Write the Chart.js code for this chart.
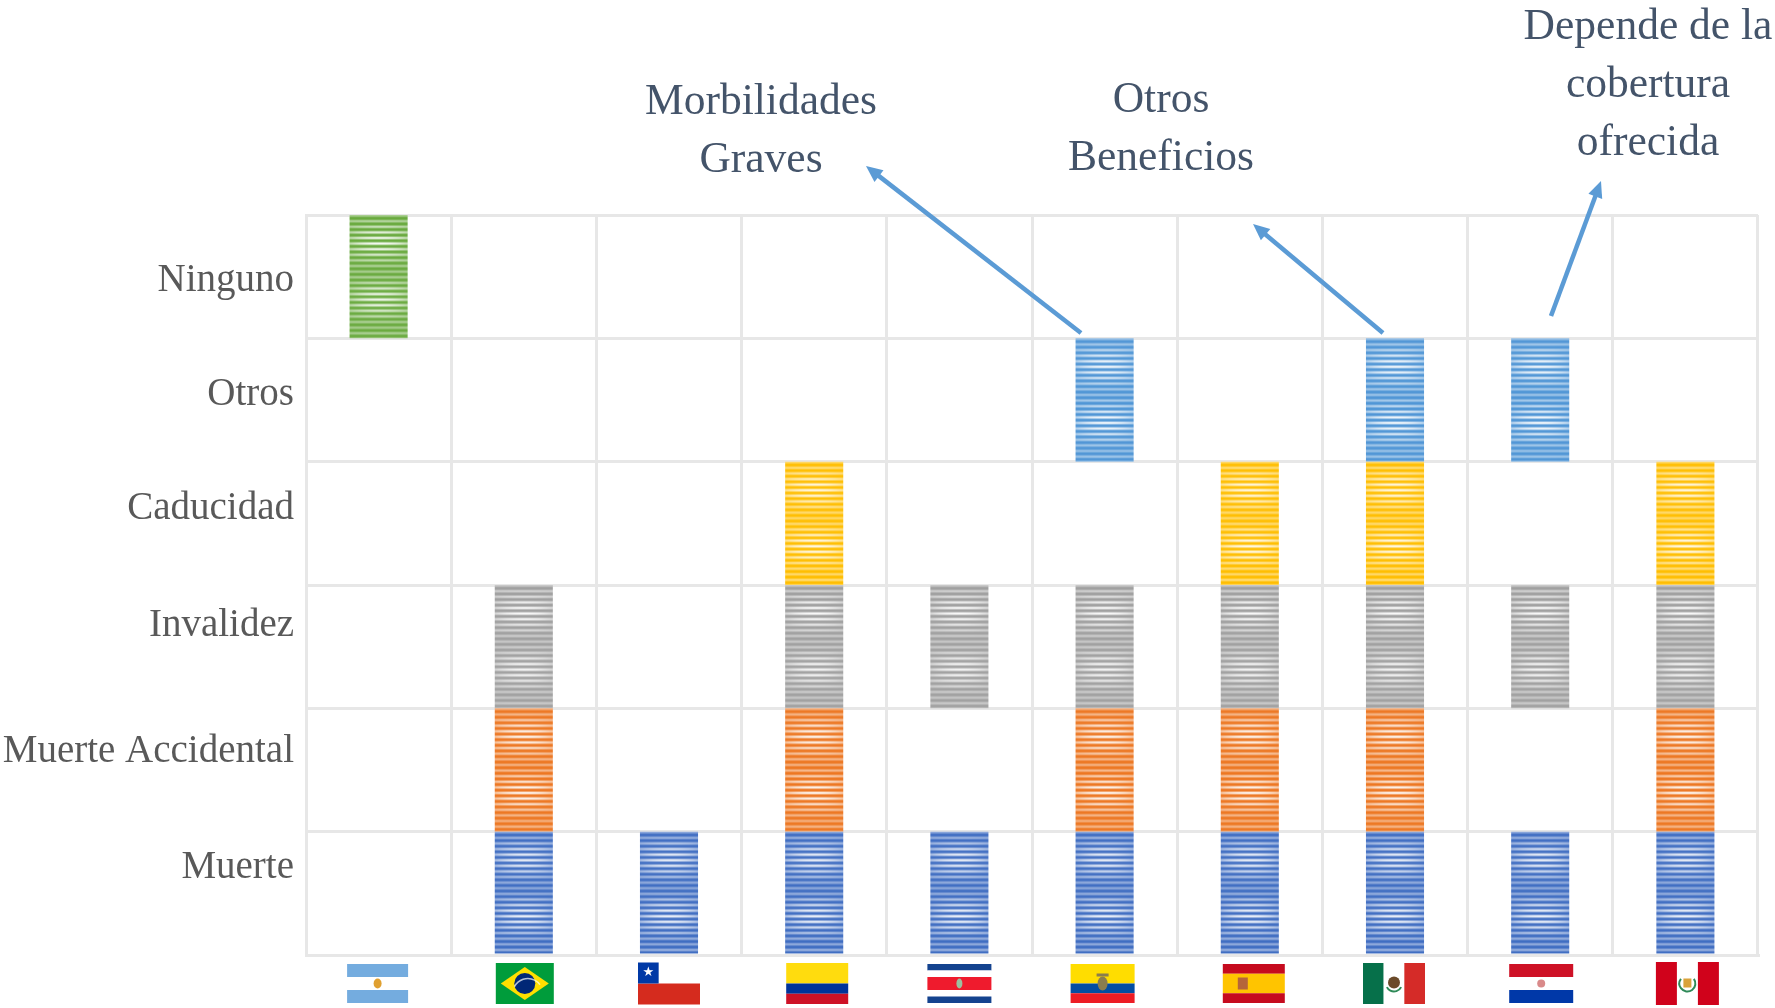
<!DOCTYPE html>
<html lang="es">
<head>
<meta charset="utf-8">
<title>Coberturas por país</title>
<script src="https://cdn.jsdelivr.net/npm/chart.js@4/dist/chart.umd.min.js"></script>
<style>
  html, body { margin: 0; padding: 0; background: #fff; }
  canvas { display: block; }
</style>
</head>
<body>
<canvas id="chart" width="1775" height="1008"></canvas>
<script>
'use strict';

const countries = ['Argentina', 'Brasil', 'Chile', 'Colombia', 'Costa Rica', 'Ecuador', 'España', 'México', 'Paraguay', 'Perú'];

// bottom row first, 1 = the country offers that cover
const rowLabels = ['Muerte', 'Muerte Accidental', 'Invalidez', 'Caducidad', 'Otros', 'Ninguno'];
const muerte = [0, 1, 1, 1, 1, 1, 1, 1, 1, 1];
const muerteAccidental = [0, 1, 0, 1, 0, 1, 1, 1, 0, 1];
const invalidez = [0, 1, 0, 1, 1, 1, 1, 1, 1, 1];
const caducidad = [0, 0, 0, 1, 0, 0, 1, 1, 0, 1];
const otros = [0, 0, 0, 0, 0, 1, 0, 1, 1, 0];
const ninguno = [1, 0, 0, 0, 0, 0, 0, 0, 0, 0];

const rows = [muerte, muerteAccidental, invalidez, caducidad, otros, ninguno];
const rowColors = ['#3f6dc2', '#ed7722', '#a0a0a0', '#ffbe00', '#5096d6', '#69aa3e'];

// the row labels sit on their own spacing, not on the row centres
const labelPositions = [0.71, 1.65, 2.67, 3.62, 4.54, 5.47];

const notes = [
  { lines: ['Morbilidades', 'Graves'], x: 761, y: 103, from: [1081, 333], to: [866, 166] },
  { lines: ['Otros', 'Beneficios'], x: 1161, y: 101, from: [1383, 333], to: [1253, 224] },
  { lines: ['Depende de la', 'cobertura', 'ofrecida'], x: 1648, y: 28, from: [1551, 316], to: [1601, 181] },
];

const flagNudge = [-1, 1, 0, 3, 0, -2, 4, -1, 1, 2];

function hexToRgb(hex) {
  return [1, 3, 5].map((i) => parseInt(hex.slice(i, i + 2), 16));
}

// one tile per grid cell: fine stripes that wash out in two bands, like the scaled-down original
function stripeTile(color) {
  const w = 145;
  const h = 124;
  const tile = document.createElement('canvas');
  tile.width = w;
  tile.height = h;
  const c = tile.getContext('2d');
  const img = c.createImageData(w, h);
  const rgb = hexToRgb(color);
  for (let y = 0; y < h; y++) {
    const t = y / h;
    const stripe = Math.pow(0.5 + 0.5 * Math.cos((2 * Math.PI * y) / (h / 22)), 1.3);
    const wash = 0.5 + 0.5 * Math.cos((2 * Math.PI * (t - 0.22)) / 0.46);
    for (let x = 0; x < w; x++) {
      const dist = Math.abs(x - w / 2) / 29;
      const glow = Math.max(0, 1 - 0.7 * dist * dist);
      const light = stripe * (0.42 + 0.55 * wash * glow);
      const i = (y * w + x) * 4;
      img.data[i] = rgb[0] + (255 - rgb[0]) * light;
      img.data[i + 1] = rgb[1] + (255 - rgb[1]) * light;
      img.data[i + 2] = rgb[2] + (255 - rgb[2]) * light;
      img.data[i + 3] = 255;
    }
  }
  c.putImageData(img, 0, 0);
  return tile;
}

const patternCache = {};

function stripeFill(ctx, color) {
  const chart = ctx.chart;
  if (!chart.chartArea) return color;
  if (patternCache[color]) return patternCache[color];
  const area = chart.chartArea;
  const pattern = chart.ctx.createPattern(stripeTile(color), 'repeat');
  const m = new DOMMatrix()
    .translate(area.left, area.top)
    .scale(area.width / 10 / 145, area.height / 6 / 124);
  pattern.setTransform(m);
  patternCache[color] = pattern;
  return pattern;
}

function bands(c, x, y, w, h, list) {
  let cur = y;
  list.forEach(([color, share]) => {
    c.fillStyle = color;
    c.fillRect(x, cur, w, h * share);
    cur += h * share;
  });
}

function dot(c, x, y, r, color) {
  c.fillStyle = color;
  c.beginPath();
  c.arc(x, y, r, 0, Math.PI * 2);
  c.fill();
}

const flags = {
  Argentina: { w: 61, h: 39, draw(c, x, y, w, h) {
    bands(c, x, y, w, h, [['#74acdf', 1 / 3], ['#ffffff', 1 / 3], ['#74acdf', 1 / 3]]);
    c.fillStyle = '#e0a030';
    c.beginPath();
    c.ellipse(x + w / 2, y + h / 2, 4, 5, 0, 0, Math.PI * 2);
    c.fill();
  } },
  Brasil: { w: 58, h: 41, draw(c, x, y, w, h) {
    c.fillStyle = '#009c3b';
    c.fillRect(x, y, w, h);
    c.fillStyle = '#ffdf00';
    c.beginPath();
    c.moveTo(x + 5, y + h / 2);
    c.lineTo(x + w / 2, y + 4);
    c.lineTo(x + w - 5, y + h / 2);
    c.lineTo(x + w / 2, y + h - 4);
    c.closePath();
    c.fill();
    dot(c, x + w / 2, y + h / 2, 10.5, '#002776');
    c.strokeStyle = 'rgba(255,255,255,0.7)';
    c.lineWidth = 1.5;
    c.beginPath();
    c.arc(x + w / 2 + 3, y + h / 2 + 10, 15, Math.PI * 1.15, Math.PI * 1.8);
    c.stroke();
  } },
  Chile: { w: 62, h: 42, draw(c, x, y, w, h) {
    c.fillStyle = '#ffffff';
    c.fillRect(x, y, w, h / 2);
    c.fillStyle = '#d52b1e';
    c.fillRect(x, y + h / 2, w, h / 2);
    c.fillStyle = '#0039a6';
    c.fillRect(x, y, w / 3, h / 2);
    c.fillStyle = '#ffffff';
    c.font = '13px "DejaVu Sans"';
    c.textAlign = 'center';
    c.textBaseline = 'middle';
    c.fillText('\u2605', x + w / 6, y + h / 4);
  } },
  Colombia: { w: 62, h: 41, draw(c, x, y, w, h) {
    bands(c, x, y, w, h, [['#ffdc0e', 0.5], ['#00349a', 0.25], ['#ce1126', 0.25]]);
  } },
  'Costa Rica': { w: 64, h: 39, draw(c, x, y, w, h) {
    bands(c, x, y, w, h, [['#14438f', 1 / 6], ['#ffffff', 1 / 6], ['#ef1b2d', 1 / 3], ['#ffffff', 1 / 6], ['#14438f', 1 / 6]]);
    c.fillStyle = '#9cc0a0';
    c.beginPath();
    c.ellipse(x + w / 2, y + h / 2, 3, 5, 0, 0, Math.PI * 2);
    c.fill();
  } },
  Ecuador: { w: 64, h: 39, draw(c, x, y, w, h) {
    bands(c, x, y, w, h, [['#ffdd00', 0.5], ['#034ea2', 0.25], ['#ed1c24', 0.25]]);
    c.fillStyle = '#8a7d4e';
    c.beginPath();
    c.ellipse(x + w / 2, y + h / 2, 5, 7, 0, 0, Math.PI * 2);
    c.fill();
    c.fillRect(x + w / 2 - 6, y + h / 2 - 10, 12, 3);
  } },
  'España': { w: 62, h: 39, draw(c, x, y, w, h) {
    bands(c, x, y, w, h, [['#c60b1e', 0.25], ['#ffc400', 0.5], ['#c60b1e', 0.25]]);
    c.fillStyle = '#b5653a';
    c.fillRect(x + 15, y + h / 2 - 6, 10, 12);
  } },
  'México': { w: 62, h: 41, draw(c, x, y, w, h) {
    c.fillStyle = '#06704a';
    c.fillRect(x, y, w / 3, h);
    c.fillStyle = '#ffffff';
    c.fillRect(x + w / 3, y, w / 3, h);
    c.fillStyle = '#d52b28';
    c.fillRect(x + (2 * w) / 3, y, w / 3, h);
    dot(c, x + w / 2, y + h / 2 - 1, 6, '#6b4a2a');
    c.strokeStyle = '#2f8a58';
    c.lineWidth = 2;
    c.beginPath();
    c.arc(x + w / 2, y + h / 2, 8, Math.PI * 0.15, Math.PI * 0.85);
    c.stroke();
  } },
  Paraguay: { w: 64, h: 39, draw(c, x, y, w, h) {
    bands(c, x, y, w, h, [['#ce1126', 1 / 3], ['#ffffff', 1 / 3], ['#0038a8', 1 / 3]]);
    dot(c, x + w / 2, y + h / 2, 4, '#d98a8a');
  } },
  'Perú': { w: 63, h: 43, draw(c, x, y, w, h) {
    c.fillStyle = '#d0021b';
    c.fillRect(x, y, w, h);
    c.fillStyle = '#ffffff';
    c.fillRect(x + w / 3, y, w / 3, h);
    c.strokeStyle = '#2f8a58';
    c.lineWidth = 2;
    c.beginPath();
    c.arc(x + w / 2, y + h / 2, 8, Math.PI * -0.2, Math.PI * 1.2);
    c.stroke();
    c.fillStyle = '#d9a23a';
    c.fillRect(x + w / 2 - 4, y + h / 2 - 5, 8, 9);
  } },
};

const flagRow = {
  id: 'flagRow',
  afterDatasetsDraw(chart) {
    const c = chart.ctx;
    const xScale = chart.scales.x;
    countries.forEach((name, i) => {
      const f = flags[name];
      const cx = xScale.getPixelForValue(i) + flagNudge[i];
      const cy = 983.5;
      c.save();
      c.filter = 'blur(0.4px)';
      f.draw(c, cx - f.w / 2, cy - f.h / 2, f.w, f.h);
      c.restore();
    });
  },
};

const callouts = {
  id: 'callouts',
  afterDatasetsDraw(chart) {
    const c = chart.ctx;
    c.save();
    notes.forEach((note) => {
      c.font = '43.5px "Liberation Serif"';
      c.fillStyle = '#44546a';
      c.textAlign = 'center';
      c.textBaseline = 'middle';
      note.lines.forEach((line, i) => c.fillText(line, note.x, note.y + i * 58));

      const [x1, y1] = note.from;
      const [x2, y2] = note.to;
      const a = Math.atan2(y2 - y1, x2 - x1);
      c.strokeStyle = '#5b9bd5';
      c.fillStyle = '#5b9bd5';
      c.lineWidth = 4.5;
      c.beginPath();
      c.moveTo(x1, y1);
      c.lineTo(x2 - 12 * Math.cos(a), y2 - 12 * Math.sin(a));
      c.stroke();
      c.beginPath();
      c.moveTo(x2, y2);
      c.lineTo(x2 - 18 * Math.cos(a - 0.42), y2 - 18 * Math.sin(a - 0.42));
      c.lineTo(x2 - 18 * Math.cos(a + 0.42), y2 - 18 * Math.sin(a + 0.42));
      c.closePath();
      c.fill();
    });
    c.restore();
  },
};

new Chart(document.getElementById('chart'), {
  type: 'bar',
  data: {
    labels: countries,
    datasets: rows.map((values, r) => ({
      label: rowLabels[r],
      data: values.map((v) => (v ? [r, r + 1] : null)),
      backgroundColor: (ctx) => stripeFill(ctx, rowColors[r]),
      borderWidth: 0,
      barPercentage: 0.4,
      categoryPercentage: 1,
    })),
  },
  plugins: [flagRow, callouts],
  options: {
    responsive: false,
    animation: false,
    layout: {
      padding: { left: 0, top: 215, right: 17, bottom: 53 },
    },
    plugins: {
      legend: { display: false },
      tooltip: { enabled: false },
    },
    scales: {
      x: {
        stacked: true,
        grid: { color: '#e7e7e7', lineWidth: 3, drawTicks: false },
        border: { color: '#e7e7e7', width: 3 },
        ticks: { display: false },
      },
      y: {
        min: 0,
        max: 6,
        position: 'left',
        grid: { color: '#e7e7e7', lineWidth: 3, drawTicks: false },
        border: { color: '#e7e7e7', width: 3 },
        ticks: { display: false, stepSize: 1 },
        afterFit(scale) {
          scale.width = 0;
        },
      },
      rowNames: {
        min: 0,
        max: 6,
        position: 'left',
        grid: { display: false },
        border: { display: false },
        afterBuildTicks(scale) {
          scale.ticks = labelPositions.map((value) => ({ value }));
        },
        afterFit(scale) {
          scale.width = 306;
        },
        ticks: {
          autoSkip: false,
          padding: 4,
          color: '#595959',
          font: { family: '"Liberation Serif"', size: 39 },
          callback: (v) => rowLabels[labelPositions.indexOf(v)],
        },
      },
    },
  },
});
</script>
</body>
</html>
